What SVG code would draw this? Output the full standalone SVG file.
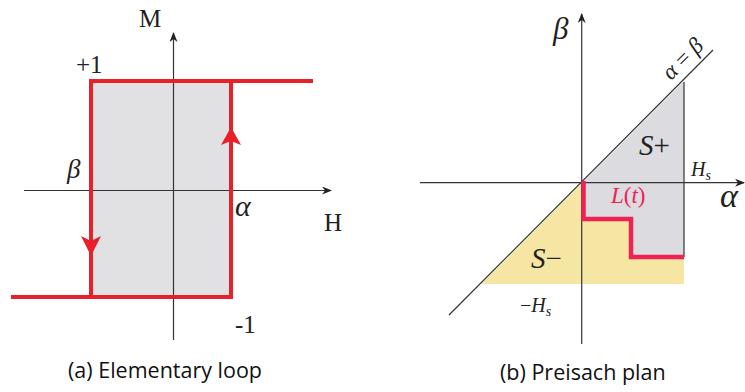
<svg xmlns="http://www.w3.org/2000/svg" width="745" height="392" viewBox="0 0 745 392">
<defs>
<marker id="ah" markerWidth="10" markerHeight="8" refX="9" refY="4" orient="auto" markerUnits="userSpaceOnUse">
<path d="M0,0 L10,4 L0,8 L3,4 Z" fill="#222"/>
</marker>
<style>
.ax{stroke:#333;stroke-width:1.2;fill:none}
.red{stroke:#e8202a;stroke-width:4;fill:none}
.math{font-family:"Liberation Serif","DejaVu Serif",serif;fill:#222}
.it{font-style:italic}
.cap{font-family:"Open Sans","Noto Sans",sans-serif;font-size:21.5px;fill:#111}
</style>
</defs>
<rect width="745" height="392" fill="#fff"/>
<g id="panel-a">
<rect id="loop-fill" x="91" y="81" width="140" height="216" fill="#e1e1e4"/>
<g id="axes-a">
<line class="ax" x1="173.5" y1="340" x2="173.5" y2="33" marker-end="url(#ah)"/>
<line class="ax" x1="24" y1="190.5" x2="331" y2="190.5" marker-end="url(#ah)"/>
</g>
<g id="loop">
<path class="red" d="M313,81 H91 V297 H11 M91,297 H231 V81"/>
<path d="M231,127 L241,145 L231,141 L221,145 Z" fill="#e8202a"/>
<path d="M91,256 L101,236 L91,241 L81,236 Z" fill="#e8202a"/>
</g>
<text class="math" x="139" y="27" font-size="25">M</text>
<text class="math" x="76" y="73" font-size="25">+1</text>
<text class="math it" x="67" y="178" font-size="27">β</text>
<text class="math it" x="235" y="216" font-size="30">α</text>
<text class="math" x="324" y="231" font-size="25">H</text>
<text class="math" x="235" y="333" font-size="25">-1</text>
<text class="cap" x="68" y="378">(a) Elementary loop</text>
</g>
<g id="panel-b">
<polygon id="s-plus" points="582,183 684,81 684,257 631,257 631,219 584,219 584,183" fill="#dcdce0"/>
<polygon id="s-minus" points="481,284 582,183 584,183 584,219 631,219 631,257 684,257 684,284" fill="#f5e6a3"/>
<g id="axes-b">
<line class="ax" x1="581.7" y1="344" x2="581.7" y2="14" marker-end="url(#ah)"/>
<line class="ax" x1="420" y1="182.7" x2="744" y2="182.7" marker-end="url(#ah)"/>
<line class="ax" x1="449" y1="315" x2="713" y2="50"/>
<line class="ax" x1="684" y1="82" x2="684" y2="257"/>
</g>
<path id="staircase" d="M583.5,181 V219 H631 V257 H684" stroke="#ee2255" stroke-width="4.5" fill="none"/>
<text class="math it" x="553" y="39" font-size="31">β</text>
<text class="math" font-size="23" transform="translate(688,64) rotate(-45)" text-anchor="middle"><tspan font-style="italic">α</tspan> = <tspan font-style="italic">β</tspan></text>
<text class="math" x="639" y="155" font-size="29"><tspan font-style="italic">S</tspan>+</text>
<text class="math" x="691" y="176" font-size="20"><tspan font-style="italic">H</tspan><tspan font-style="italic" font-size="14" dy="4">s</tspan></text>
<text class="math it" x="720" y="207" font-size="34">α</text>
<text class="math" x="611" y="203" font-size="23" style="fill:#ee2255"><tspan font-style="italic">L</tspan>(<tspan font-style="italic">t</tspan>)</text>
<text class="math" x="531" y="268" font-size="29"><tspan font-style="italic">S</tspan>−</text>
<text class="math" x="520" y="312" font-size="20">−<tspan font-style="italic">H</tspan><tspan font-style="italic" font-size="14" dy="4">s</tspan></text>
<text class="cap" x="500" y="380">(b) Preisach plan</text>
</g>
</svg>
